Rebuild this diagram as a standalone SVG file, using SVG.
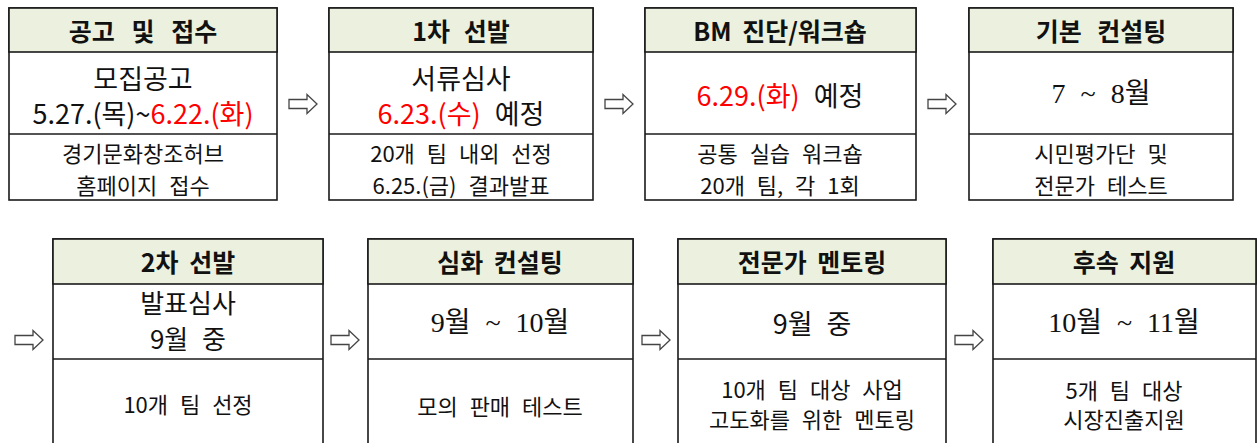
<svg xmlns="http://www.w3.org/2000/svg" width="1260" height="443" viewBox="0 0 1260 443">
<style>
text{font-family:"Noto Sans CJK KR","Noto Sans",sans-serif;fill:#111;text-anchor:middle;dominant-baseline:central}
.hd{font-size:25px;font-weight:bold;word-spacing:5px}
.md{font-size:27px;word-spacing:8px}
.sr{font-family:"Liberation Serif","Noto Sans CJK KR",serif;font-size:28px}
.bd{font-size:22px;word-spacing:7px}
.red{fill:#FF0000}
.box{fill:#fff;stroke:#1a1a1a;stroke-width:1.6}
.hfill{fill:#EBF1DE;stroke:#1a1a1a;stroke-width:1.6}
.div{stroke:#1a1a1a;stroke-width:1.6;fill:none}
.arr{fill:#fff;stroke:#444;stroke-width:1.3;stroke-linejoin:miter}
</style>
<defs>
<path id="arrow" d="M0,-4.5 H18 V-9.5 L28,0 L18,9.5 V4.5 H0 Z"/>
</defs>
<rect width="1260" height="443" fill="#fff"/>

<g id="connectors">
<use href="#arrow" class="arr" x="289" y="104"/>
<use href="#arrow" class="arr" x="605" y="104"/>
<use href="#arrow" class="arr" x="928" y="104"/>
<use href="#arrow" class="arr" x="15" y="340"/>
<use href="#arrow" class="arr" x="331" y="340"/>
<use href="#arrow" class="arr" x="642" y="340"/>
<use href="#arrow" class="arr" x="955" y="340"/>
</g>

<g id="node1">
<rect class="box" x="9" y="8" width="268" height="192"/>
<rect class="hfill" x="9" y="8" width="268" height="44"/>
<line class="div" x1="9" y1="134" x2="277" y2="134"/>
<text class="hd" x="143" y="30" style="word-spacing:11px">공고 및 접수</text>
<text class="md" x="143" y="77">모집공고</text>
<text class="md" x="143" y="112">5.27.(목)~<tspan class="red">6.22.(화)</tspan></text>
<text class="bd" x="143" y="152">경기문화창조허브</text>
<text class="bd" x="143" y="184">홈페이지 접수</text>
</g>

<g id="node2">
<rect class="box" x="329" y="8" width="264" height="192"/>
<rect class="hfill" x="329" y="8" width="264" height="44"/>
<line class="div" x1="329" y1="134" x2="593" y2="134"/>
<text class="hd" x="461" y="30" style="word-spacing:8px">1차 선발</text>
<text class="md" x="461" y="77">서류심사</text>
<text class="md" x="461" y="112"><tspan class="red">6.23.(수)</tspan> 예정</text>
<text class="bd" x="461" y="152">20개 팀 내외 선정</text>
<text class="bd" x="461" y="184">6.25.(금) 결과발표</text>
</g>

<g id="node3">
<rect class="box" x="645" y="8" width="271" height="192"/>
<rect class="hfill" x="645" y="8" width="271" height="44"/>
<line class="div" x1="645" y1="134" x2="916" y2="134"/>
<text class="hd" x="780" y="30">BM 진단/워크숍</text>
<text class="md" x="780" y="94"><tspan class="red">6.29.(화)</tspan> 예정</text>
<text class="bd" x="780" y="152">공통 실습 워크숍</text>
<text class="bd" x="780" y="184">20개 팀, 각 1회</text>
</g>

<g id="node4">
<rect class="box" x="969" y="8" width="264" height="192"/>
<rect class="hfill" x="969" y="8" width="264" height="44"/>
<line class="div" x1="969" y1="134" x2="1233" y2="134"/>
<text class="hd" x="1101" y="30" style="word-spacing:10px">기본 컨설팅</text>
<text class="md sr" x="1101" y="93">7 ~ 8월</text>
<text class="bd" x="1101" y="152">시민평가단 및</text>
<text class="bd" x="1101" y="184">전문가 테스트</text>
</g>

<g id="node5">
<rect class="box" x="53" y="239" width="270" height="215"/>
<rect class="hfill" x="53" y="239" width="270" height="45"/>
<line class="div" x1="53" y1="359" x2="323" y2="359"/>
<text class="hd" x="188" y="261">2차 선발</text>
<text class="md" x="188" y="301" style="font-size:26px">발표심사</text>
<text class="md" x="188" y="337" style="font-size:26px">9월 중</text>
<text class="bd" x="188" y="403">10개 팀 선정</text>
</g>

<g id="node6">
<rect class="box" x="368" y="239" width="265" height="215"/>
<rect class="hfill" x="368" y="239" width="265" height="45"/>
<line class="div" x1="368" y1="359" x2="633" y2="359"/>
<text class="hd" x="500" y="261">심화 컨설팅</text>
<text class="md sr" x="500" y="322">9월 ~ 10월</text>
<text class="bd" x="500" y="405">모의 판매 테스트</text>
</g>

<g id="node7">
<rect class="box" x="678" y="239" width="268" height="215"/>
<rect class="hfill" x="678" y="239" width="268" height="45"/>
<line class="div" x1="678" y1="359" x2="946" y2="359"/>
<text class="hd" x="812" y="261">전문가 멘토링</text>
<text class="md" x="812" y="322">9월 중</text>
<text class="bd" x="812" y="388">10개 팀 대상 사업</text>
<text class="bd" x="812" y="418">고도화를 위한 멘토링</text>
</g>

<g id="node8">
<rect class="box" x="993" y="239" width="263" height="215"/>
<rect class="hfill" x="993" y="239" width="263" height="45"/>
<line class="div" x1="993" y1="359" x2="1256" y2="359"/>
<text class="hd" x="1124" y="261">후속 지원</text>
<text class="md sr" x="1124" y="322">10월 ~ 11월</text>
<text class="bd" x="1124" y="389">5개 팀 대상</text>
<text class="bd" x="1124" y="418">시장진출지원</text>
</g>
</svg>
